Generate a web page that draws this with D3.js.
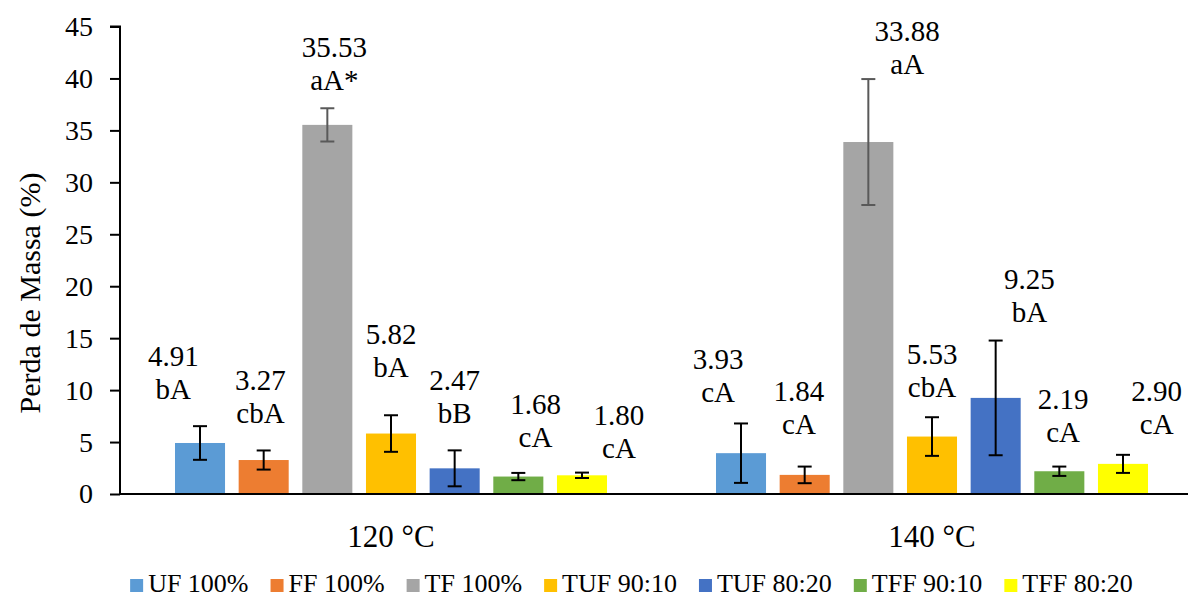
<!DOCTYPE html>
<html>
<head>
<meta charset="utf-8">
<script src="https://cdn.jsdelivr.net/npm/d3@7"></script>
<style>
  html, body { margin: 0; padding: 0; background: #fff; }
  svg text { font-family: "Liberation Serif", "DejaVu Serif", "Times New Roman", serif; fill: #000; }
</style>
</head>
<body>
<div id="chart"></div>
<script>
const groups = ["120 °C", "140 °C"],
  series = ["UF 100%", "FF 100%", "TF 100%", "TUF 90:10", "TUF 80:20", "TFF 90:10", "TFF 80:20"],
  colors = ["#5B9BD5", "#ED7D31", "#A5A5A5", "#FFC000", "#4472C4", "#70AD47", "#FFFF00"],
  values120 = [4.91, 3.27, 35.53, 5.82, 2.47, 1.68, 1.80],
  values140 = [3.93, 1.84, 33.88, 5.53, 9.25, 2.19, 2.90],
  errors120 = [1.62, 0.92, 1.6, 1.76, 1.73, 0.35, 0.26],
  errors140 = [2.86, 0.8, 6.06, 1.86, 5.52, 0.45, 0.87],
  letters120 = ["bA", "cbA", "aA*", "bA", "bB", "cA", "cA"],
  letters140 = ["cA", "cA", "aA", "cbA", "bA", "cA", "cA"],
  yTicks = [0, 5, 10, 15, 20, 25, 30, 35, 40, 45];

// where the labels were dragged to in the original (baseline of the letter line, value units; x shift in bar steps)
const labelAt120 = [9.10, 6.88, 38.93, 11.31, 6.88, 4.48, 3.51],
  labelAt140 = [8.90, 5.82, 40.38, 9.29, 16.51, 5.05, 5.82],
  labelShift120 = [-0.42, -0.05, 0.11, 0, 0, 0.27, 0.58],
  labelShift140 = [-0.36, -0.09, 0.61, 0, 0.53, 0.06, 0.53];

const rows = [
  { group: groups[0], values: values120, errors: errors120, letters: letters120, at: labelAt120, shift: labelShift120 },
  { group: groups[1], values: values140, errors: errors140, letters: letters140, at: labelAt140, shift: labelShift140 }
];

const WIDTH = 1188,
  HEIGHT = 598,
  FONT = "'Liberation Serif', 'DejaVu Serif', 'Times New Roman', serif";

const svg = d3.select("#chart").append("svg")
  .attr("width", WIDTH)
  .attr("height", HEIGHT);

const x0 = d3.scaleBand()
  .domain(groups)
  .range([120.5, 1202.5]);

const x1 = d3.scaleBand()
  .domain(series)
  .range([0, x0.bandwidth()])
  .paddingInner(0.214)
  .paddingOuter(0.856);

const y = d3.scaleLinear()
  .domain([0, 45])
  .range([494, 26.5]);

const color = d3.scaleOrdinal().domain(series).range(colors);

// bars
const g = svg.append("g");
const groupSel = g.selectAll("g.grp")
  .data(rows)
  .enter()
  .append("g")
  .attr("class", "grp")
  .attr("transform", d => `translate(${x0(d.group)},0)`);

const items = groupSel.selectAll("g.item")
  .data(d => series.map((s, i) => ({
    s: s,
    v: d.values[i],
    e: d.errors[i],
    l: d.letters[i],
    at: d.at[i],
    shift: d.shift[i]
  })))
  .enter()
  .append("g")
  .attr("class", "item");

items.append("rect")
  .attr("x", d => x1(d.s))
  .attr("y", d => y(d.v))
  .attr("width", x1.bandwidth())
  .attr("height", d => y(0) - y(d.v))
  .attr("fill", d => color(d.s));

// error bars
const errColor = d => d.s === "TF 100%" ? "#595959" : "#000";
const cx = d => x1(d.s) + x1.bandwidth() / 2;

items.append("line")
  .attr("x1", cx).attr("x2", cx)
  .attr("y1", d => y(d.v + d.e))
  .attr("y2", d => y(Math.max(0, d.v - d.e)))
  .attr("stroke", errColor)
  .attr("stroke-width", 2);

items.selectAll("line.cap")
  .data(d => [Object.assign({ k: d.v + d.e }, d), Object.assign({ k: d.v - d.e }, d)])
  .enter()
  .append("line")
  .attr("class", "cap")
  .attr("x1", d => cx(d) - 7)
  .attr("x2", d => cx(d) + 7)
  .attr("y1", d => y(d.k))
  .attr("y2", d => y(d.k))
  .attr("stroke", errColor)
  .attr("stroke-width", 2);

// data labels
const lab = items.append("text")
  .attr("text-anchor", "middle")
  .attr("font-family", FONT)
  .attr("font-size", 29)
  .attr("transform", d => `translate(${cx(d) + d.shift * x1.step()},${y(d.at)})`);
lab.append("tspan").attr("x", 0).attr("y", -33).text(d => d.v.toFixed(2));
lab.append("tspan").attr("x", 0).attr("y", 0).text(d => d.l);

// y axis
const yAxis = svg.append("g")
  .attr("transform", "translate(120,0)")
  .call(d3.axisLeft(y).tickValues(yTicks).tickSize(10).tickPadding(17).tickFormat(d3.format("d")));
yAxis.attr("font-family", FONT);
yAxis.select(".domain").attr("stroke", "#000").attr("stroke-width", 2).attr("d", `M-10,${y(45)}H0V${y(0)}`);
yAxis.selectAll(".tick line").attr("stroke", "#000").attr("stroke-width", 2);
yAxis.selectAll(".tick text")
  .attr("font-size", 28)
  .attr("font-family", FONT)
  .attr("fill", "#000");

// x axis line and category labels
svg.append("line")
  .attr("x1", 119).attr("x2", WIDTH)
  .attr("y1", y(0)).attr("y2", y(0))
  .attr("stroke", "#000")
  .attr("stroke-width", 2);

svg.append("g")
  .selectAll("text")
  .data(groups)
  .enter()
  .append("text")
  .attr("x", d => x0(d) + x0.bandwidth() / 2)
  .attr("y", 547)
  .attr("text-anchor", "middle")
  .attr("font-family", FONT)
  .attr("font-size", 31)
  .text(d => d);

// y axis title
svg.append("text")
  .attr("transform", "translate(40,293) rotate(-90)")
  .attr("text-anchor", "middle")
  .attr("font-family", FONT)
  .attr("font-size", 30)
  .text("Perda de Massa (%)");

// legend
const legend = svg.append("g");
const leg = legend.selectAll("g")
  .data(series)
  .enter()
  .append("g");
leg.append("rect")
  .attr("width", 13).attr("height", 13)
  .attr("y", -13)
  .attr("fill", d => color(d));
leg.append("text")
  .attr("x", 18)
  .attr("font-family", FONT)
  .attr("font-size", 26)
  .text(d => d);

let pos = 0;
const offsets = [];
leg.each(function () {
  offsets.push(pos);
  const w = d3.select(this).select("text").node().getComputedTextLength();
  pos += 18 + w + 22;
});
const total = pos - 22;
const start = 631.5 - total / 2;
leg.attr("transform", (d, i) => `translate(${start + offsets[i]},592)`);
</script>
</body>
</html>
